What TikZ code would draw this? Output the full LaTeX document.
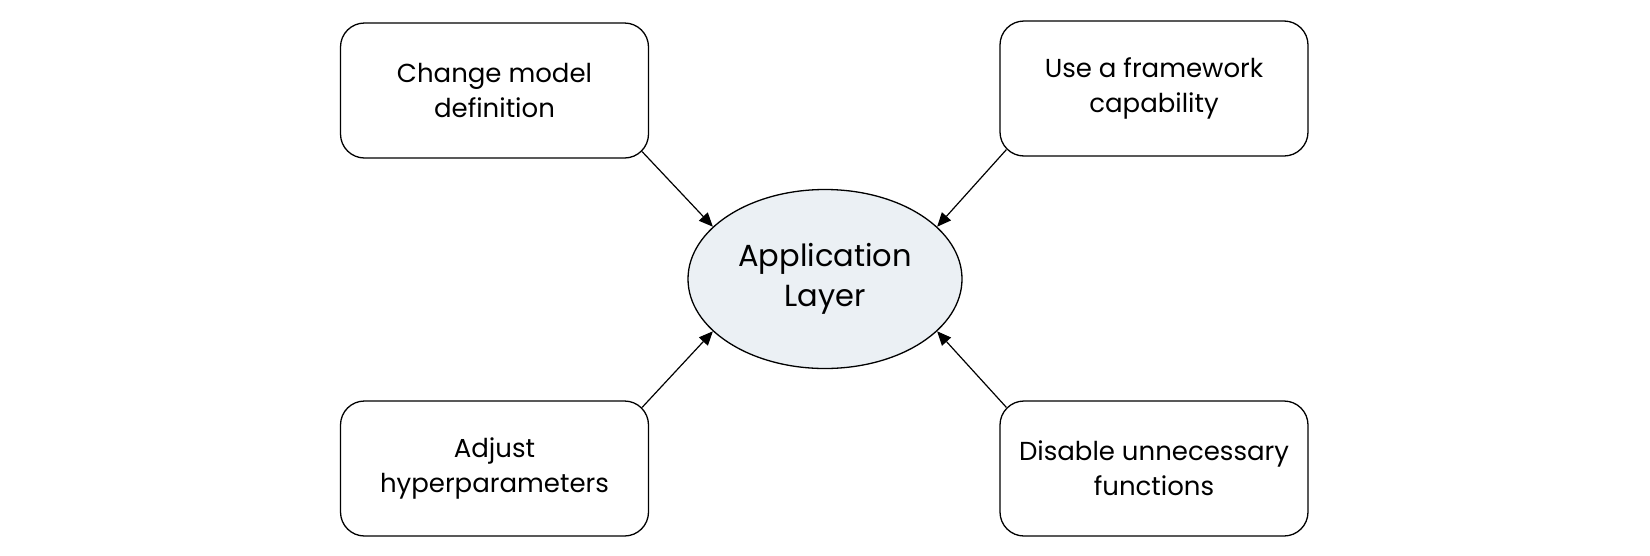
\documentclass[tikz,border=0pt]{standalone}
\usepackage{fontspec}
\setmainfont{Poppins}
\usetikzlibrary{arrows.meta,shapes.geometric}
\definecolor{appfill}{HTML}{EBF0F4}
\begin{document}
\begin{tikzpicture}[x=1pt,y=-1pt,
 box/.style={draw=black, line width=1.3pt, rounded corners=24pt, minimum width=308pt, minimum height=135pt, align=center, font=\fontsize{26}{35}\selectfont, inner sep=0pt},
 core/.style={ellipse, draw=black, fill=appfill, line width=1.3pt, minimum width=274pt, minimum height=179pt, inner sep=0pt, align=center, font=\fontsize{30.5}{40}\selectfont},
 link/.style={-{Triangle[length=14pt,width=12pt]}, line width=1.2pt}]
\fill[white] (0,0) rectangle (1650,555);
\useasboundingbox (0,0) rectangle (1650,555);
\node[core] (app) at (825,279) {Application\\Layer};
\node[box] (tl) at (494.5,90.5) {Change model\\definition};
\node[box] (tr) at (1154,88.5) {Use a framework\\capability};
\node[box] (bl) at (494.5,468.5) {Adjust\\hyperparameters};
\node[box] (br) at (1154,468.5) {Disable unnecessary\\functions};
\draw[link] ([shift={(-7,-7)}]tl.south east) -- (app.155);
\draw[link] ([shift={(7,-7)}]tr.south west) -- (app.25);
\draw[link] ([shift={(-7,7)}]bl.north east) -- (app.205);
\draw[link] ([shift={(7,7)}]br.north west) -- (app.335);
\end{tikzpicture}
\end{document}
